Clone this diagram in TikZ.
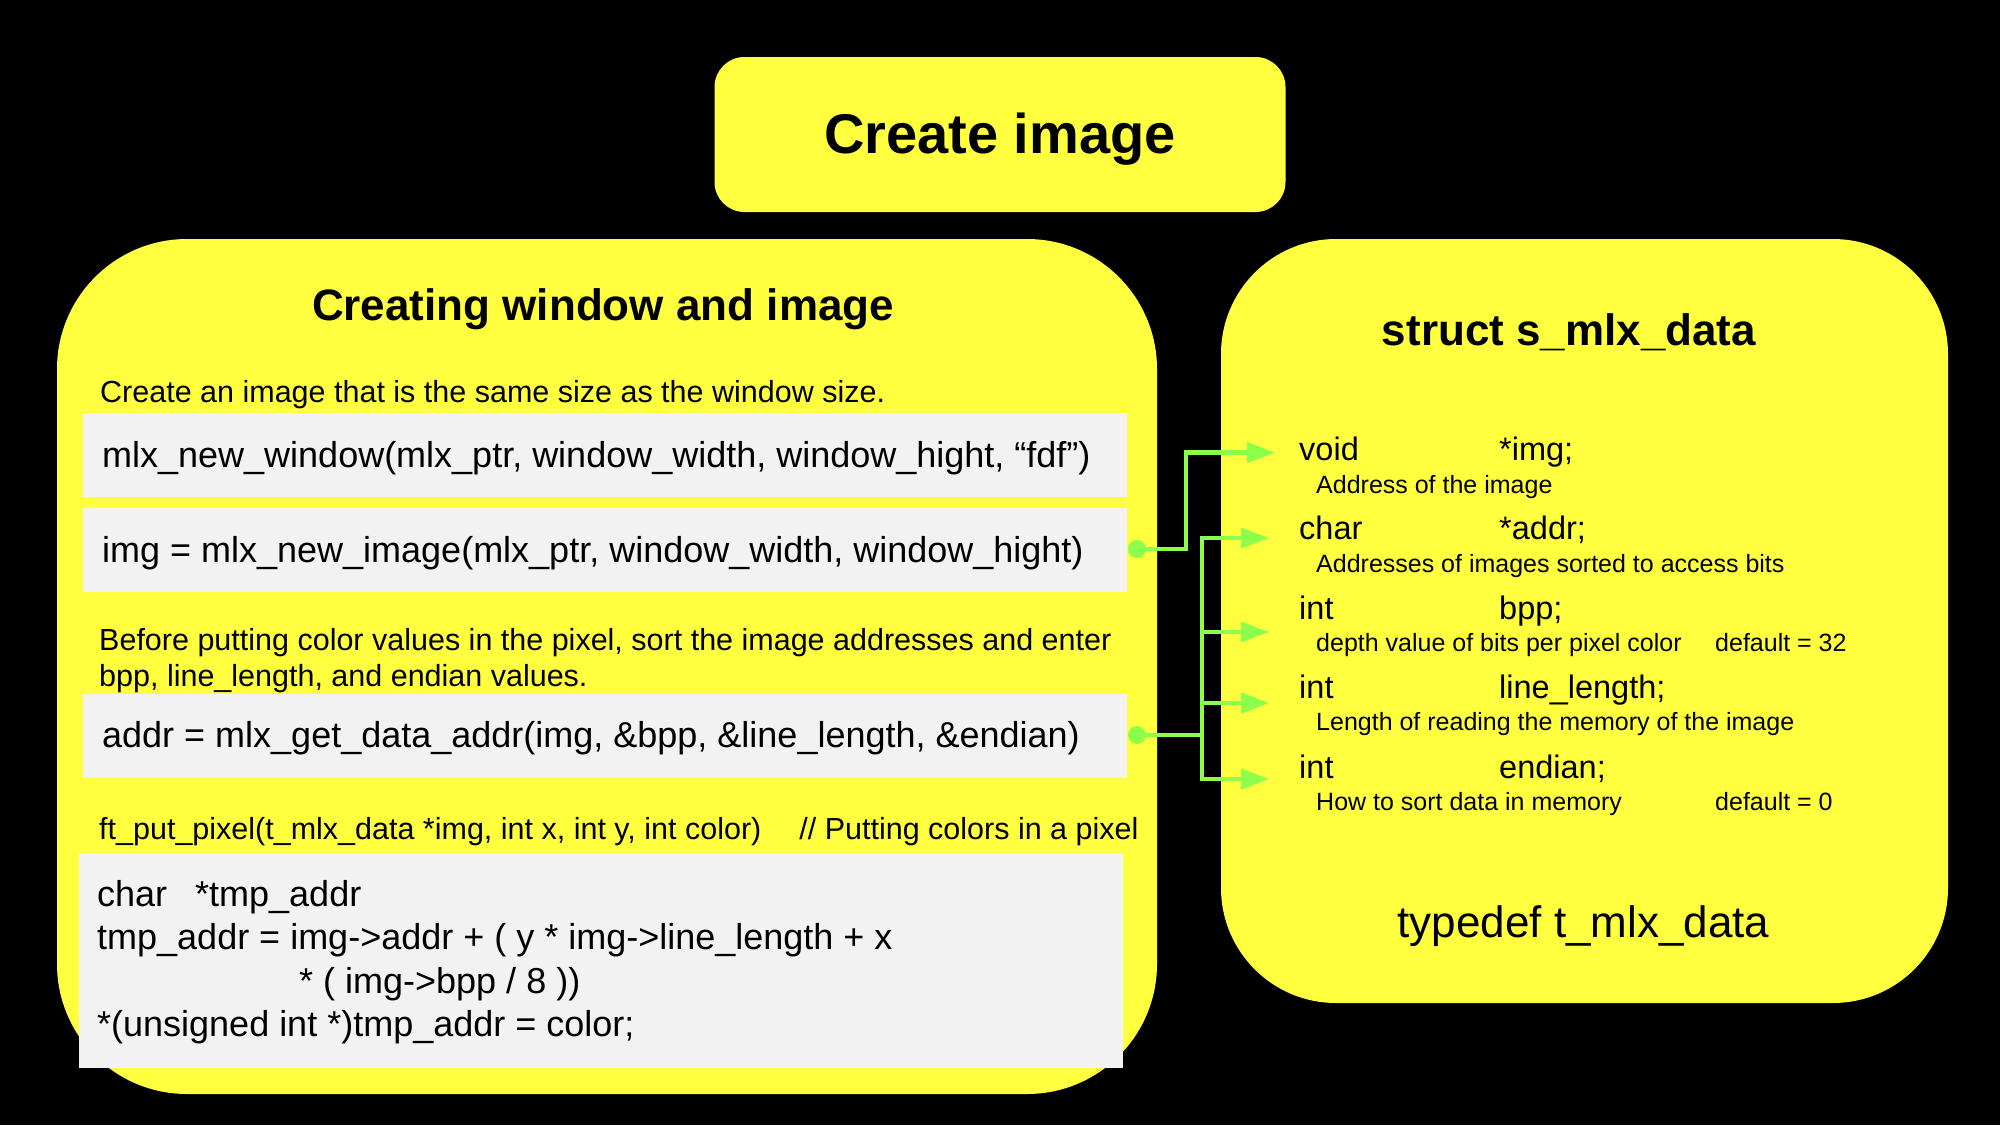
\documentclass[tikz,border=0pt]{standalone}
\usepackage{fontspec}
\setmainfont{Liberation Sans}
\usetikzlibrary{arrows.meta,positioning}

\definecolor{boxyellow}{RGB}{255,255,64}
\definecolor{codegrey}{RGB}{242,242,242}
\definecolor{linkgreen}{RGB}{140,255,75}

\begin{document}
\begin{tikzpicture}[x=1pt,y=-1pt,
        panel/.style={fill=boxyellow,draw=none,inner sep=0pt},
        codebox/.style={fill=codegrey,draw=none,inner sep=0pt,anchor=north west},
        code/.style={font=\fontsize{36}{44}\selectfont,anchor=base west,inner sep=0pt},
        note/.style={font=\fontsize{30.5}{37}\selectfont,anchor=base west,inner sep=0pt},
        field/.style={font=\fontsize{32.5}{38}\selectfont,anchor=base west,inner sep=0pt},
        hint/.style={font=\fontsize{25}{30}\selectfont,anchor=base west,inner sep=0pt},
        head/.style={font=\fontsize{44}{50}\selectfont\bfseries,anchor=base,inner sep=0pt},
        flow/.style={draw=linkgreen,line width=4.3pt,-{Triangle[length=28pt,width=20pt]}},
        dot/.style={circle,fill=linkgreen,inner sep=0pt,minimum size=18pt}]

    \fill[black] (0,0) rectangle (2000,1125);
    \useasboundingbox (0,0) rectangle (2000,1125);

    % title
    \node[panel,rounded corners=30pt,minimum width=571pt,minimum height=155pt] (title) at (1000,134.5) {};
    \node[head,font=\fontsize{56}{60}\selectfont\bfseries] (titletext) at (1000,153) {Create image};

    % left panel
    \node[panel,rounded corners=130pt,minimum width=1100pt,minimum height=855pt] (make) at (607,666.5) {};
    \node[head] (makehead) at (603,320) {Creating window and image};

    \node[note] (winnote) at (100,402) {Create an image that is the same size as the window size.};
    \node[codebox,minimum width=1044pt,minimum height=84pt] (winbox) at (83,413) {};
    \node[code] (wincode) at (102,467) {mlx\_new\_window(mlx\_ptr, window\_width, window\_hight, “fdf”)};
    \node[codebox,minimum width=1044pt,minimum height=84pt] (imgbox) at (83,508) {};
    \node[code] (imgcode) at (102,562) {img = mlx\_new\_image(mlx\_ptr, window\_width, window\_hight)};

    \node[note] (addrnote) at (99,650) {Before putting color values in the pixel, sort the image addresses and enter};
    \node[note] (addrnote2) at (99,686) {bpp, line\_length, and endian values.};
    \node[codebox,minimum width=1044pt,minimum height=84pt] (addrbox) at (83,694) {};
    \node[code] (addrcode) at (102,747) {addr = mlx\_get\_data\_addr(img, \&bpp, \&line\_length, \&endian)};

    \node[note] (pixnote) at (99,839) {ft\_put\_pixel(t\_mlx\_data *img, int x, int y, int color)\hspace{38pt}// Putting colors in a pixel};
    \node[codebox,minimum width=1044pt,minimum height=215pt] (pixbox) at (79,853) {};
    \node[code] (pixA) at (97,906) {char\hspace{28pt}*tmp\_addr};
    \node[code] (pixB) at (97,949) {tmp\_addr = img->addr + ( y * img->line\_length + x};
    \node[code] (pixC) at (299,993) {* ( img->bpp / 8 ))};
    \node[code] (pixD) at (97,1036) {*(unsigned int *)tmp\_addr = color;};

    % right panel
    \node[panel,rounded corners=115pt,minimum width=727pt,minimum height=764pt] (data) at (1584.5,621) {};
    \node[head] (datahead) at (1569,345) {struct s\_mlx\_data};
    \node[head,font=\fontsize{44}{50}\selectfont] (datafoot) at (1583.5,937) {typedef t\_mlx\_data};

    \node[field] (voidtype) at (1299,460) {void};
    \node[field] (voidname) at (1499,460) {*img;};
    \node[hint] (voidhint) at (1316,493) {Address of the image};
    \node[field] (chartype) at (1299,539) {char};
    \node[field] (charname) at (1499,539) {*addr;};
    \node[hint] (charhint) at (1316,572) {Addresses of images sorted to access bits};
    \node[field] (bpptype) at (1299,619) {int};
    \node[field] (bppname) at (1499,619) {bpp;};
    \node[hint] (bpphint) at (1316,651) {depth value of bits per pixel color};
    \node[hint] (bppdef) at (1715,651) {default = 32};
    \node[field] (lentype) at (1299,698) {int};
    \node[field] (lenname) at (1499,698) {line\_length;};
    \node[hint] (lenhint) at (1316,730) {Length of reading the memory of the image};
    \node[field] (endtype) at (1299,778) {int};
    \node[field] (endname) at (1499,778) {endian;};
    \node[hint] (endhint) at (1316,810) {How to sort data in memory};
    \node[hint] (enddef) at (1715,810) {default = 0};

    % connectors
    \node[dot] (dotA) at (1137,549) {};
    \node[dot] (dotB) at (1137,735) {};
    \coordinate (jA) at (1186,0);
    \coordinate (jB) at (1202,0);
    \coordinate (tVoid) at (1275,452.5);
    \coordinate (tChar) at (1269,538);
    \coordinate (tBpp) at (1269,632);
    \coordinate (tLen) at (1269,703);
    \coordinate (tEnd) at (1269,779);

    \draw[flow] (dotA.center) -| (jA |- tVoid) -- (tVoid);
    \draw[flow] (dotB.center) -| (jB |- tChar) -- (tChar);
    \draw[flow] (dotB.center) -| (jB |- tEnd) -- (tEnd);
    \draw[flow] (jB |- tBpp) -- (tBpp);
    \draw[flow] (jB |- tLen) -- (tLen);
\end{tikzpicture}
\end{document}
